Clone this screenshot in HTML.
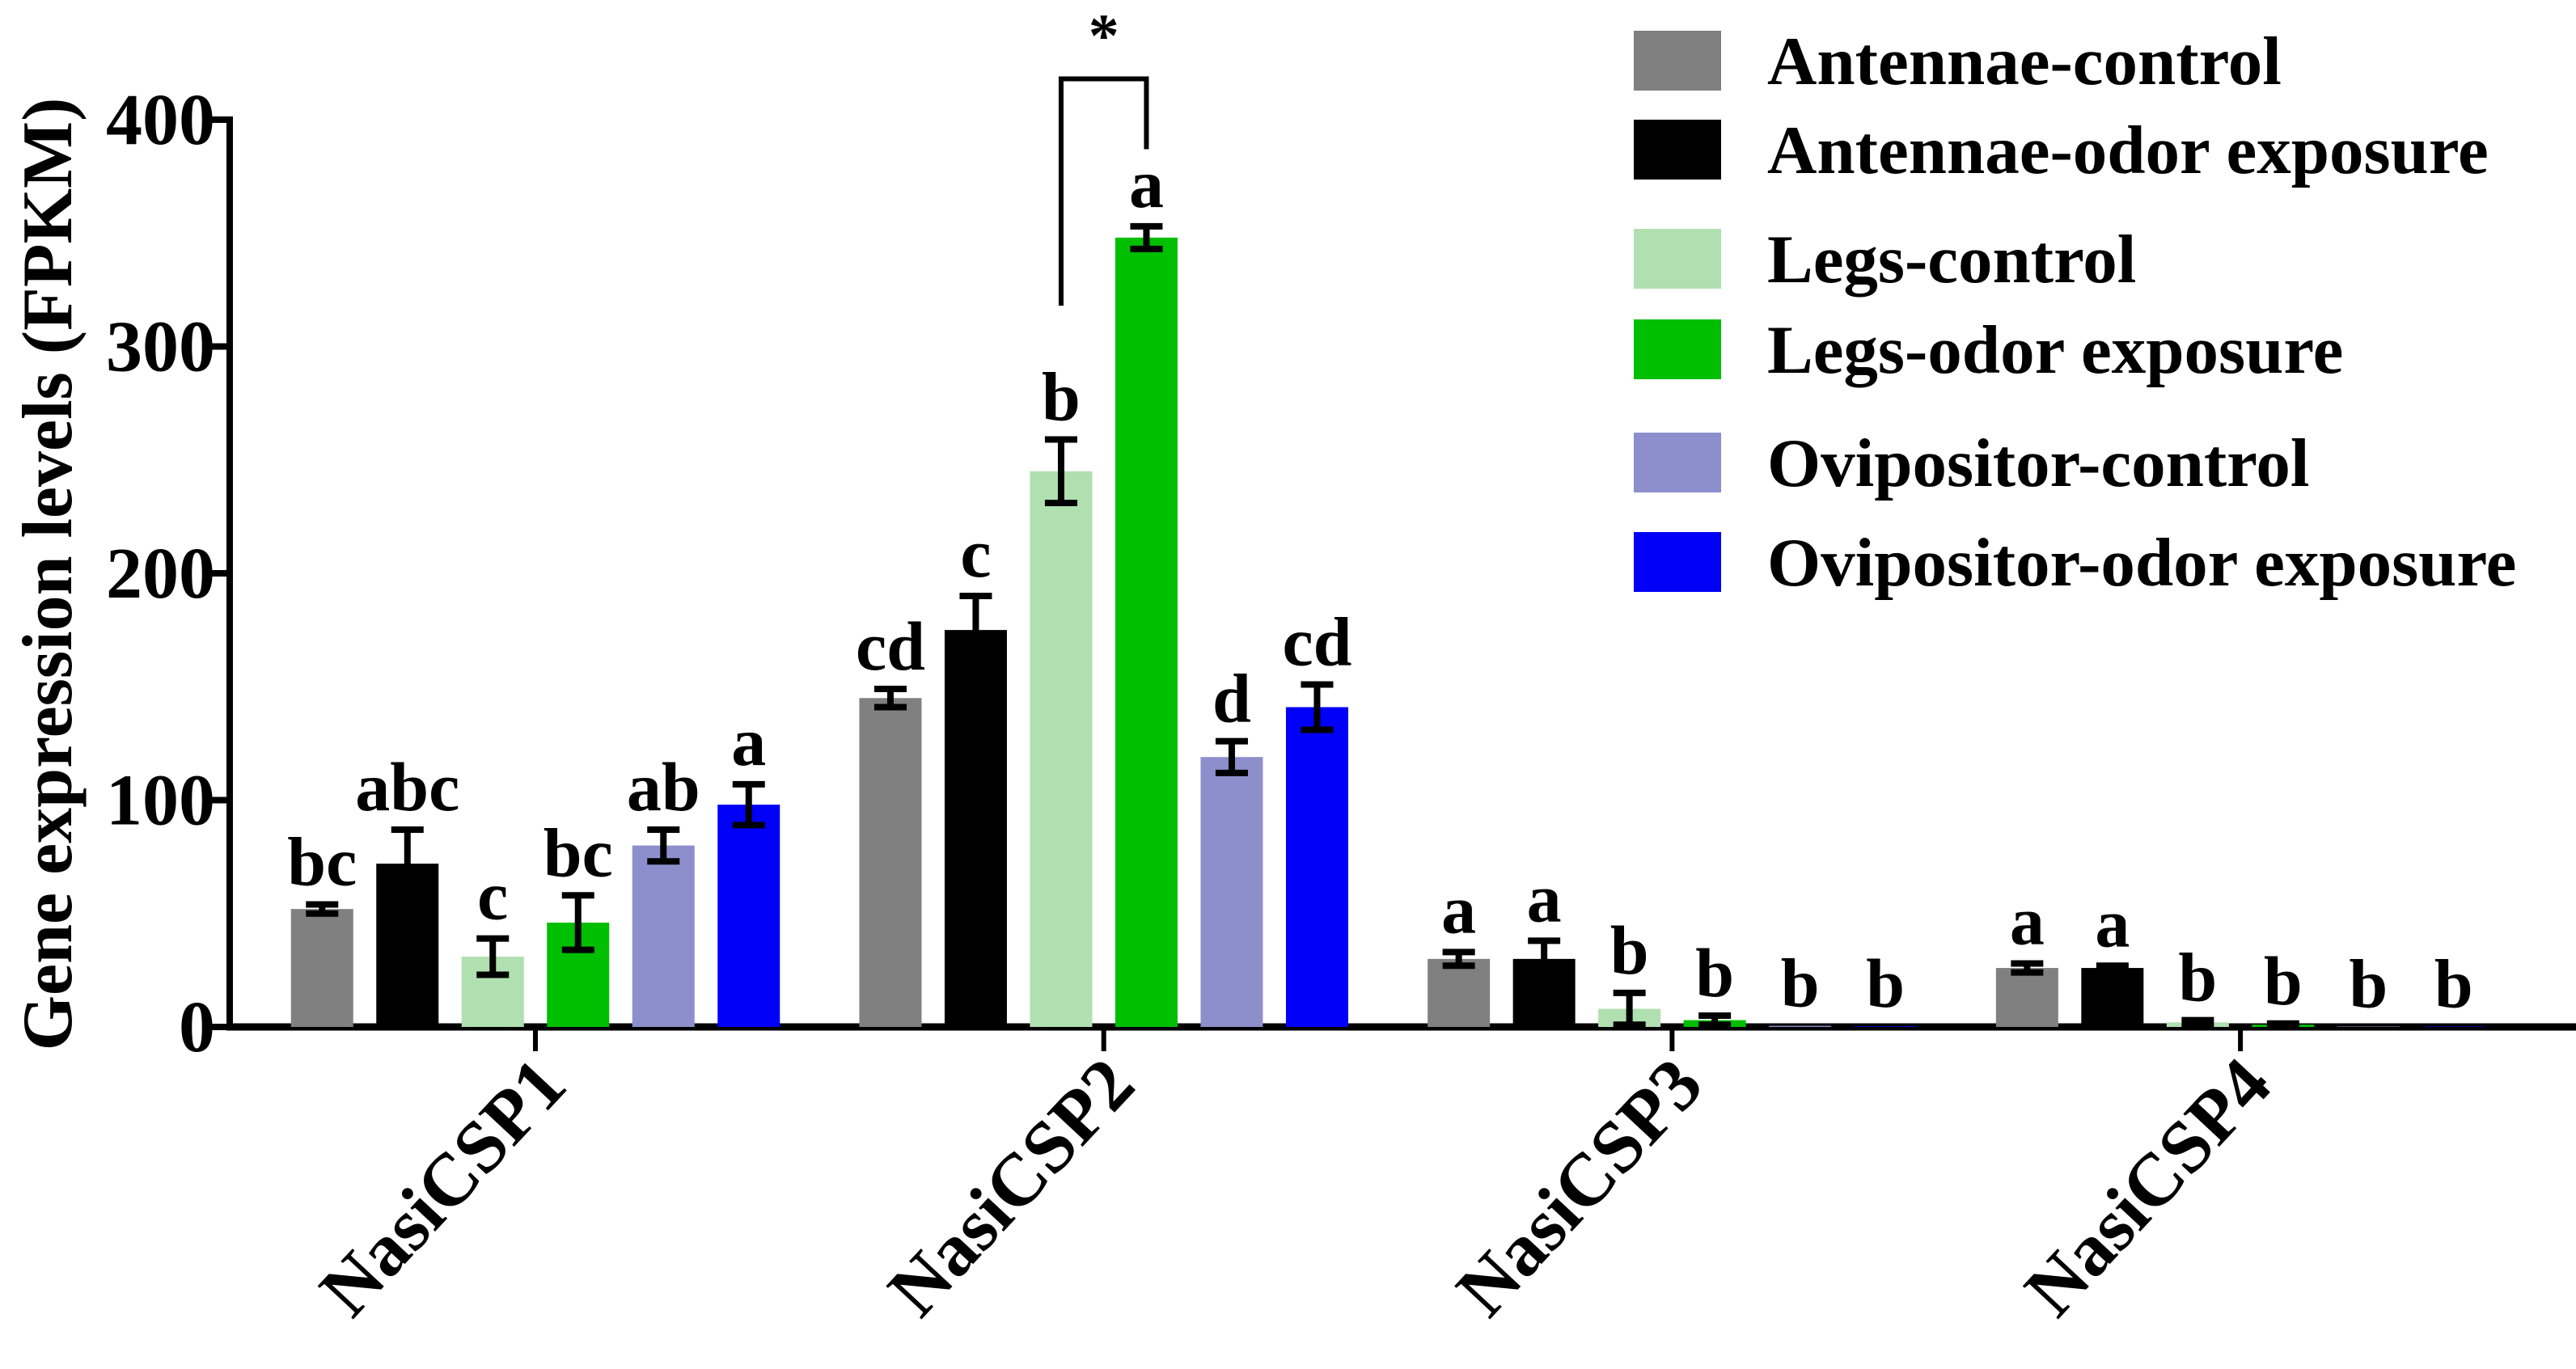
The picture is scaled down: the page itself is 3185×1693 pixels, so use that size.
<!DOCTYPE html>
<html><head><meta charset="utf-8"><style>
html,body{margin:0;padding:0;background:#fff;}
svg{display:block;font-family:"Liberation Serif",serif;font-weight:bold;}
</style></head><body>
<svg id="chart" width="3185" height="1693" viewBox="0 0 3185 1693">
<g id="axes"></g><g id="bars"></g><g id="legend"></g>
</svg>
<script>
const genes = ["NasiCSP1","NasiCSP2","NasiCSP3","NasiCSP4"];
const seriesNames = ["Antennae-control","Antennae-odor exposure","Legs-control","Legs-odor exposure","Ovipositor-control","Ovipositor-odor exposure"];
const seriesColors = ["#808080","#000000","#b0dfb0","#00be00","#8c8fcc","#0000f8"];
const antControl = [52,145,30,26];
const antOdor = [72,175,30,26];
const legControl = [31,245,8,2];
const legOdor = [46,348,3,1];
const oviControl = [80,119,0.5,0.2];
const oviOdor = [98,141,0.3,0.2];
const antControlErr = [2,4,3,2];
const antOdorErr = [15,15,8,1];
const legControlErr = [8,14,7,1];
const legOdorErr = [12,5,2,0.5];
const oviControlErr = [7,7,0,0];
const oviOdorErr = [9,10,0,0];
const letters1 = ["bc","abc","c","bc","ab","a"];
const letters2 = ["cd","c","b","a","d","cd"];
const letters3 = ["a","a","b","b","b","b"];
const letters4 = ["a","a","b","b","b","b"];
const yTicks = [0,100,200,300,400];

const values = [antControl,antOdor,legControl,legOdor,oviControl,oviOdor];
const errs = [antControlErr,antOdorErr,legControlErr,legOdorErr,oviControlErr,oviOdorErr];
const letters = [letters1,letters2,letters3,letters4];

const NS="http://www.w3.org/2000/svg";
const X0=284, Y0=1270, Y400=148;
const y = v => Y0 - (v/400)*(Y0-Y400);
const groupCenter = g => 662 + g*702.7;
const barX = (g,s) => groupCenter(g) + (s-2.5)*105.5;
const BW=77;
function mk(tag, attrs, parent){const e=document.createElementNS(NS,tag);for(const k in attrs)e.setAttribute(k,attrs[k]);parent.appendChild(e);return e;}
const axes=document.getElementById('axes'), bars=document.getElementById('bars'), legend=document.getElementById('legend');

for(let g=0;g<genes.length;g++){
  for(let s=0;s<6;s++){
    const cx=barX(g,s), v=values[s][g], e=errs[s][g];
    const r=mk('rect',{x:cx-BW/2,y:y(v),width:BW,height:Y0-y(v),fill:seriesColors[s]},bars);
    
    
    if(e>0){
      const eb=mk('path',{d:`M${cx},${y(v+e)}V${y(v-e)}M${cx-20},${y(v+e)}H${cx+20}M${cx-20},${y(v-e)}H${cx+20}`,stroke:'#000','stroke-width':8,fill:'none'},bars);
      
      
    }
    const t=mk('text',{x:cx,y:y(v+e)-24,'text-anchor':'middle','font-size':86},bars);
    t.textContent=letters[g][s];
    
    
  }
}
{
  const xl=barX(1,2), xr=barX(1,3);
  const p=mk('path',{d:`M${xl},${y(318)}V${y(418)}H${xr}V${y(387)}`,stroke:'#000','stroke-width':6,fill:'none'},bars);
  
  
  const st=mk('text',{x:(xl+xr)/2,y:y(418)-28,'text-anchor':'middle','font-size':76},bars);
  st.textContent='*';
  
  
}
const ya=mk('line',{x1:X0,y1:Y400-4,x2:X0,y2:Y0+4,stroke:'#000','stroke-width':8},axes);


const xa=mk('line',{x1:X0-4,y1:Y0,x2:3185,y2:Y0,stroke:'#000','stroke-width':9},axes);


for(const t of yTicks){
  const l=mk('line',{x1:X0-30,y1:y(t),x2:X0,y2:y(t),stroke:'#000','stroke-width':8},axes);
  
  
  const tx=mk('text',{x:266,y:y(t)+30,'text-anchor':'end','font-size':90},axes);
  tx.textContent=String(t);
  
  
}
for(let g=0;g<genes.length;g++){
  const cx=groupCenter(g);
  const l=mk('line',{x1:cx,y1:Y0,x2:cx,y2:Y0+30,stroke:'#000','stroke-width':6},axes);
  
  
  const ax=cx+42, ay=Y0+75;
  const t=mk('text',{x:ax,y:ay,'text-anchor':'end','font-size':92,transform:`rotate(-47 ${ax} ${ay})`},axes);
  t.textContent=genes[g];
  
  
}
const yt=mk('text',{x:0,y:0,'text-anchor':'middle','font-size':88,transform:'translate(88 710) rotate(-90)'},axes);
yt.textContent='Gene expression levels (FPKM)';


const legY=[75,185,320,432,572,695];
for(let s=0;s<6;s++){
  const r=mk('rect',{x:2020,y:legY[s]-37,width:108,height:74,fill:seriesColors[s]},legend);
  
  
  const t=mk('text',{x:2185,y:legY[s]+29,'font-size':85},legend);
  t.textContent=seriesNames[s];
  
  
}
</script>
</body></html>
